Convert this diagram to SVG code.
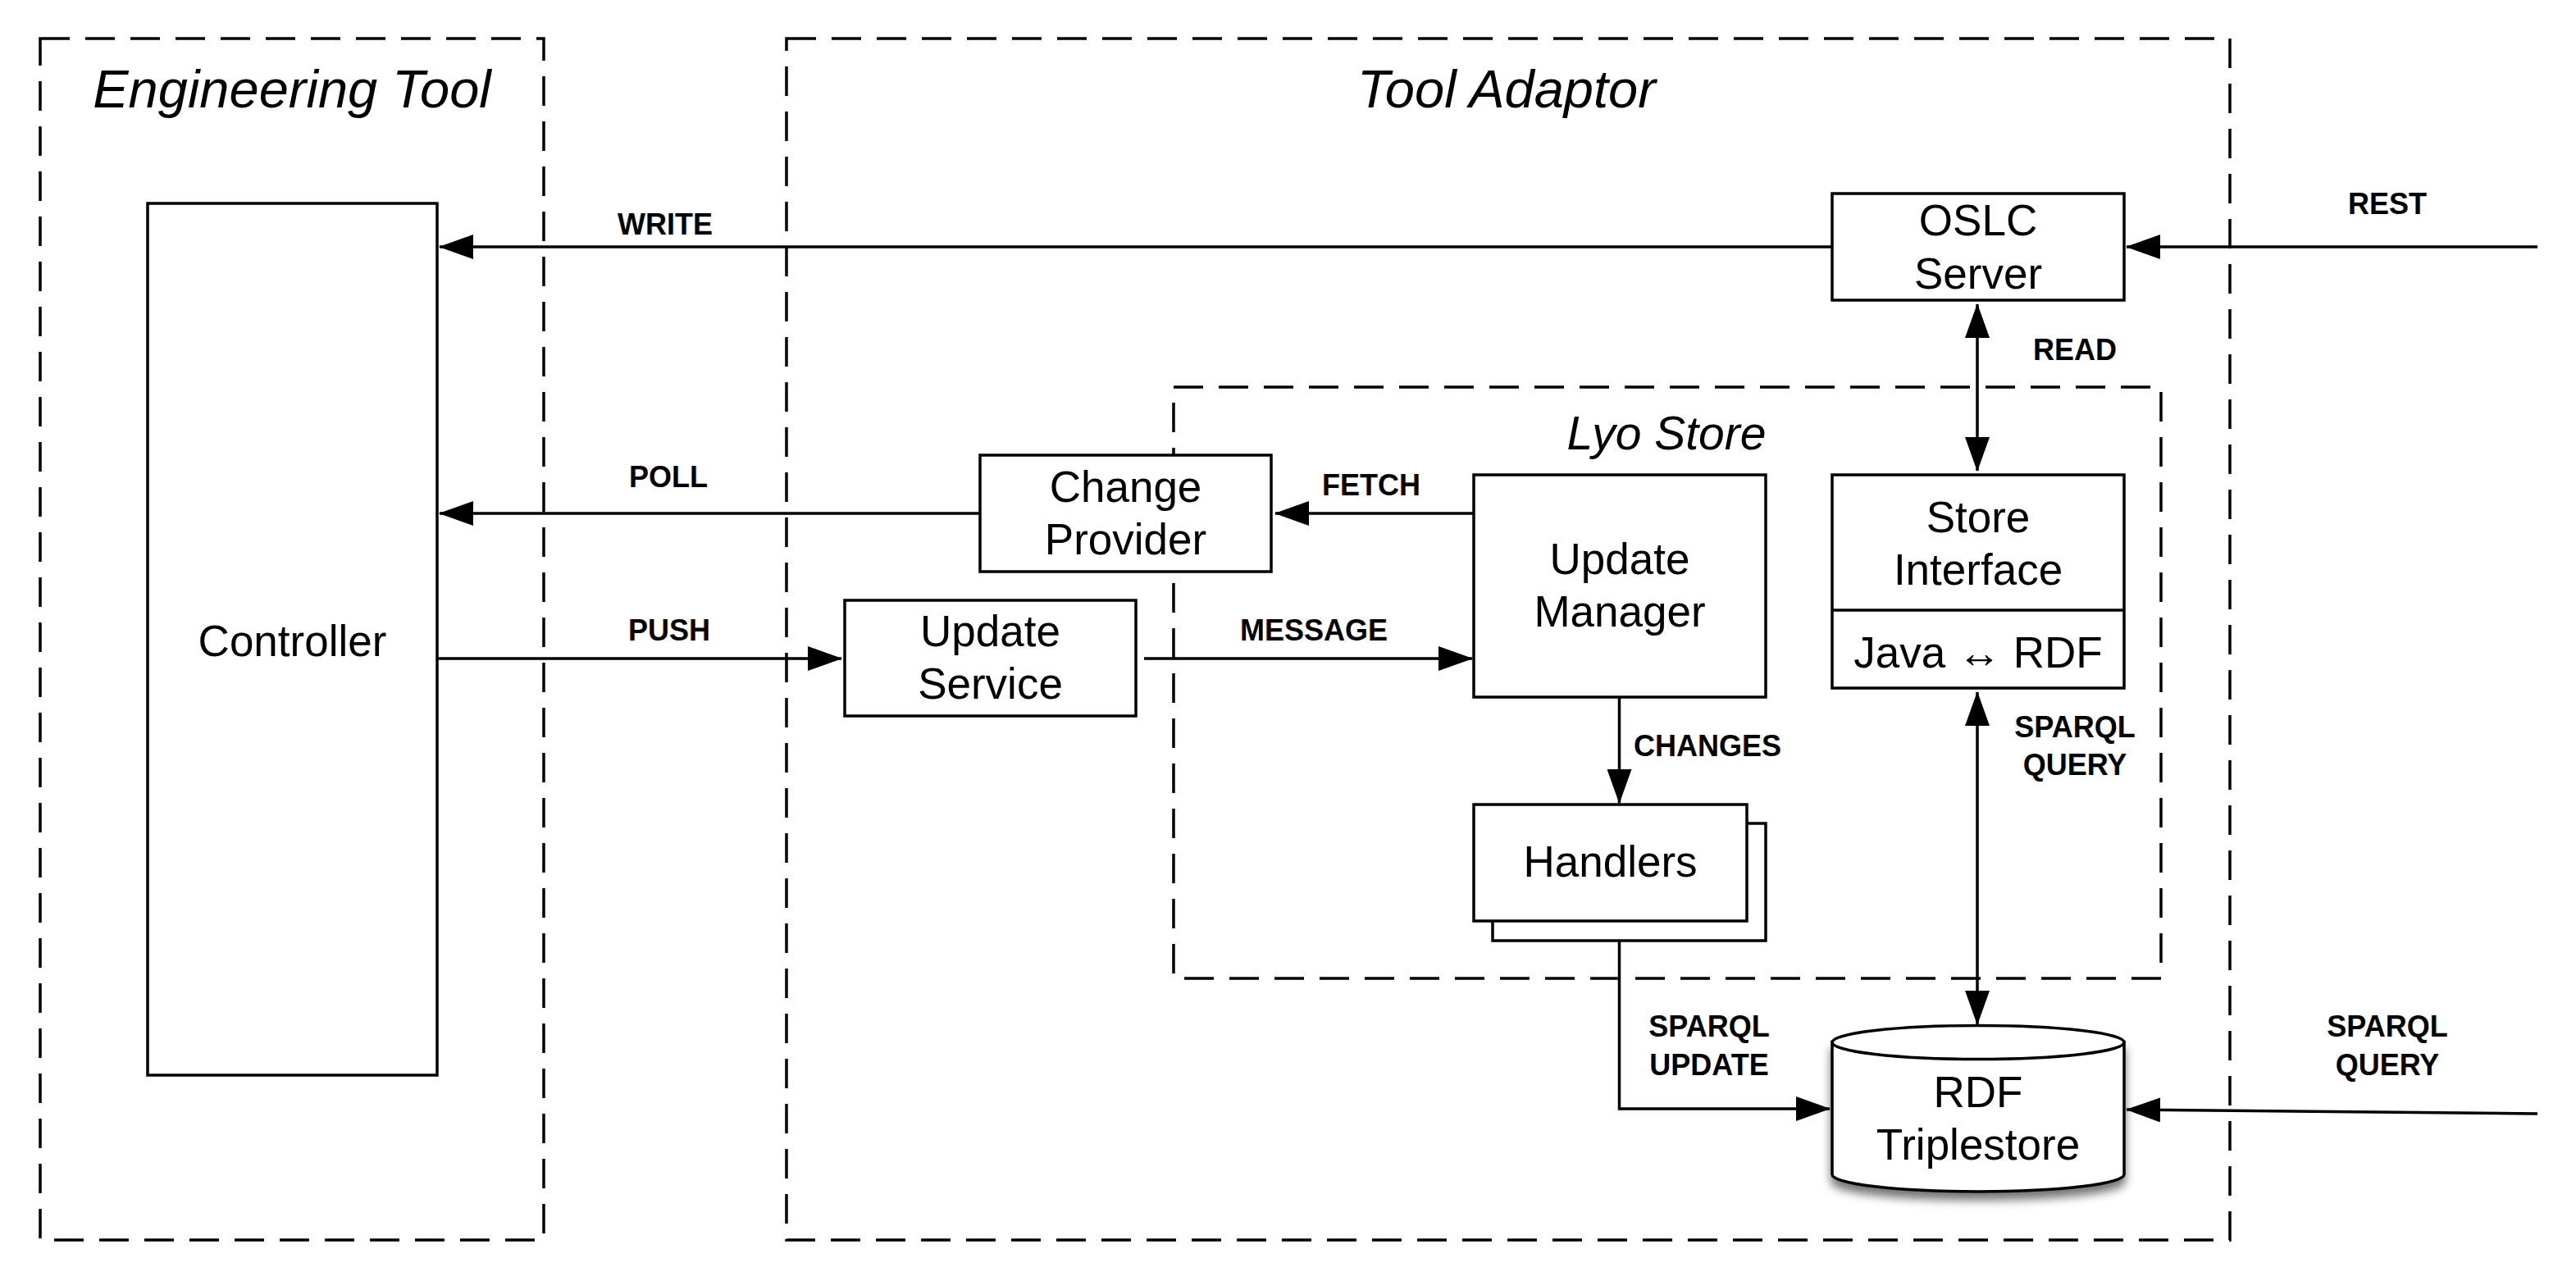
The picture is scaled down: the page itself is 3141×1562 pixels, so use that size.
<svg xmlns="http://www.w3.org/2000/svg" width="3141" height="1562" viewBox="0 0 3141 1562">
<style>
.cont{fill:none;stroke:#000;stroke-width:3.5;stroke-dasharray:36 19}
.box{fill:#fff;stroke:#000;stroke-width:3.5}
.conn{fill:none;stroke:#000;stroke-width:3.5}
.t{font-family:"Liberation Sans",Arial,sans-serif;font-size:53px;text-anchor:middle;fill:#000}
.title{font-family:"Liberation Sans",Arial,sans-serif;font-style:italic;font-size:65px;text-anchor:middle;fill:#000}
.lbl{font-family:"Liberation Sans",Arial,sans-serif;font-weight:bold;font-size:36px;text-anchor:middle;fill:#000}
</style>
<defs>
<marker id="ah" viewBox="0 0 42 30" markerWidth="42" markerHeight="30" refX="41" refY="15" orient="auto-start-reverse" markerUnits="userSpaceOnUse">
<path d="M0,0 L42,15 L0,30 z" fill="#000"/>
</marker>
<filter id="shadow" x="-10%" y="-10%" width="120%" height="130%">
<feGaussianBlur in="SourceAlpha" stdDeviation="6"/>
<feOffset dy="9" result="b"/>
<feComponentTransfer><feFuncA type="linear" slope="0.55"/></feComponentTransfer>
<feMerge><feMergeNode/><feMergeNode in="SourceGraphic"/></feMerge>
</filter>
</defs>
<rect width="3141" height="1562" fill="#fff"/>

<g id="engineering-tool">
<rect class="cont" x="49" y="47" width="614" height="1465"/>
<text class="title" x="356" y="131">Engineering Tool</text>
</g>
<g id="tool-adaptor">
<rect class="cont" x="959" y="47" width="1760" height="1465"/>
<text class="title" x="1837" y="131">Tool Adaptor</text>
</g>
<g id="lyo-store">
<rect class="cont" x="1431" y="472" width="1204" height="721"/>
<text class="title" style="font-size:57px" x="2032" y="548">Lyo Store</text>
</g>

<g id="controller">
<rect class="box" x="180" y="248" width="353" height="1063"/>
<text class="t" x="356.5" y="800">Controller</text>
</g>
<g id="change-provider">
<rect class="box" x="1195" y="555" width="355" height="142"/>
<text class="t" x="1372.5" y="612">Change</text>
<text class="t" x="1372.5" y="676">Provider</text>
</g>
<g id="update-service">
<rect class="box" x="1030" y="732" width="355" height="141"/>
<text class="t" x="1207.5" y="788">Update</text>
<text class="t" x="1207.5" y="852">Service</text>
</g>
<g id="update-manager">
<rect class="box" x="1797" y="579" width="356" height="271"/>
<text class="t" x="1975" y="700">Update</text>
<text class="t" x="1975" y="764">Manager</text>
</g>
<g id="handlers">
<rect class="box" x="1820" y="1004" width="333" height="143"/>
<rect class="box" x="1797" y="981" width="333" height="142"/>
<text class="t" x="1963.5" y="1069">Handlers</text>
</g>
<g id="oslc-server">
<rect class="box" x="2234" y="236" width="356" height="130"/>
<text class="t" x="2412" y="287">OSLC</text>
<text class="t" x="2412" y="352">Server</text>
</g>
<g id="store-interface">
<rect class="box" x="2234" y="579" width="356" height="260"/>
<line class="conn" x1="2234" y1="744" x2="2590" y2="744"/>
<text class="t" x="2412" y="649">Store</text>
<text class="t" x="2412" y="713">Interface</text>
<text class="t" x="2412" y="814">Java ↔ RDF</text>
</g>
<g id="rdf-triplestore">
<path class="box" filter="url(#shadow)" d="M2234,1271 V1432 A178,21 0 0 0 2590,1432 V1271 Z"/>
<ellipse class="box" cx="2412" cy="1271" rx="178" ry="20.5"/>
<text class="t" x="2412" y="1350">RDF</text>
<text class="t" x="2412" y="1414">Triplestore</text>
</g>

<g id="connectors">
<line class="conn" x1="2234" y1="301" x2="536" y2="301" marker-end="url(#ah)"/>
<line class="conn" x1="3094" y1="301" x2="2593" y2="301" marker-end="url(#ah)"/>
<line class="conn" x1="2411" y1="371" x2="2411" y2="574" marker-start="url(#ah)" marker-end="url(#ah)"/>
<line class="conn" x1="1195" y1="626" x2="536" y2="626" marker-end="url(#ah)"/>
<line class="conn" x1="1797" y1="626" x2="1555" y2="626" marker-end="url(#ah)"/>
<line class="conn" x1="533" y1="803" x2="1026" y2="803" marker-end="url(#ah)"/>
<line class="conn" x1="1395" y1="803" x2="1795" y2="803" marker-end="url(#ah)"/>
<line class="conn" x1="1974.5" y1="850" x2="1974.5" y2="979" marker-end="url(#ah)"/>
<line class="conn" x1="2411" y1="844" x2="2411" y2="1249" marker-start="url(#ah)" marker-end="url(#ah)"/>
<path class="conn" d="M1974.5,1147 V1352 H2231" marker-end="url(#ah)"/>
<line class="conn" x1="3094" y1="1358" x2="2593" y2="1353" marker-end="url(#ah)"/>

<text class="lbl" x="811" y="286">WRITE</text>
<text class="lbl" x="2911" y="261">REST</text>
<text class="lbl" x="2530" y="439">READ</text>
<text class="lbl" x="815" y="594">POLL</text>
<text class="lbl" x="1672" y="604">FETCH</text>
<text class="lbl" x="816" y="781">PUSH</text>
<text class="lbl" x="1602" y="781">MESSAGE</text>
<text class="lbl" x="2082" y="922">CHANGES</text>
<text class="lbl" x="2530" y="899">SPARQL</text>
<text class="lbl" x="2530" y="945">QUERY</text>
<text class="lbl" x="2084" y="1264">SPARQL</text>
<text class="lbl" x="2084" y="1311">UPDATE</text>
<text class="lbl" x="2911" y="1264">SPARQL</text>
<text class="lbl" x="2911" y="1311">QUERY</text>
</g>
</svg>
